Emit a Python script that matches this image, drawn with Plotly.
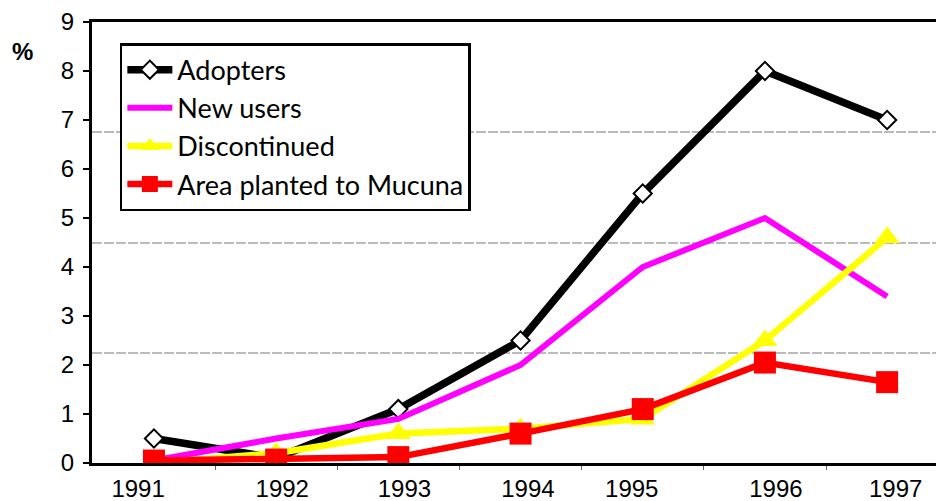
import plotly.graph_objects as go

years = ["1991", "1992", "1993", "1994", "1995", "1996", "1997"]
adopters = [0.5, 0.1, 1.1, 2.5, 5.5, 8.0, 7.0]
new_users = [0.05, 0.5, 0.9, 2.0, 4.0, 5.0, 3.4]
discontinued = [0.0, 0.2, 0.6, 0.7, 0.9, 2.5, 4.6]
area_mucuna = [0.05, 0.07, 0.12, 0.6, 1.1, 2.05, 1.65]

xi = list(range(len(years)))
label_pos = [-0.13, 1.05, 2.05, 3.06, 3.91, 5.09, 6.07]
grid_vals = [2.25, 4.5, 6.75]

fig = go.Figure()
fig.add_trace(go.Scatter(x=xi, y=adopters, name="Adopters", mode="lines+markers",
                         line=dict(color="black", width=7.5),
                         marker=dict(symbol="diamond", size=14, color="white",
                                     line=dict(color="black", width=2))))
fig.add_trace(go.Scatter(x=xi, y=new_users, name="New users", mode="lines",
                         line=dict(color="#ff00ff", width=6)))
fig.add_trace(go.Scatter(x=xi, y=discontinued, name="Discontinued", mode="lines+markers",
                         line=dict(color="#ffff00", width=6.5),
                         marker=dict(symbol="triangle-up", size=22, color="#ffff00")))
fig.add_trace(go.Scatter(x=xi, y=area_mucuna, name="Area planted to Mucuna", mode="lines+markers",
                         line=dict(color="#ff0000", width=6.5),
                         marker=dict(symbol="square", size=22, color="#ff0000")))

fig.update_layout(
    width=936, height=501,
    margin=dict(l=92, r=0, t=22, b=38, autoexpand=False),
    paper_bgcolor="white", plot_bgcolor="white",
    showlegend=True,
    legend=dict(x=0.033, y=0.952, xanchor="left", yanchor="top",
                bordercolor="black", borderwidth=2.5, bgcolor="white",
                font=dict(family="Lato", size=27, color="black"),
                itemwidth=45, tracegroupgap=0),
    font=dict(family="Liberation Sans, Arial", size=24, color="black"),
    annotations=[dict(text="<b>%</b>", x=(22 - 92) / 844, y=(463 - 52) / 441,
                      xref="paper", yref="paper", xanchor="center", yanchor="middle",
                      showarrow=False, font=dict(size=24))],
)

fig.update_xaxes(range=[-0.507, 6.40], tickmode="array", tickvals=label_pos, ticktext=years,
                 ticks="", showgrid=False, zeroline=False, automargin=False,
                 showline=True, linecolor="black", linewidth=3, mirror=True,
                 ticklabelstandoff=2,
                 minor=dict(tickmode="array", tickvals=[i + 0.5 for i in xi[:-1]],
                            ticks="outside", ticklen=4, tickwidth=1, tickcolor="#666",
                            showgrid=False))
fig.update_yaxes(range=[0, 9], tickmode="array", tickvals=list(range(10)),
                 ticks="outside", ticklen=6, tickwidth=1.5, tickcolor="black",
                 showgrid=False, zeroline=False, automargin=False,
                 showline=True, linecolor="black", linewidth=3,
                 ticklabelstandoff=4,
                 minor=dict(tickmode="array", tickvals=grid_vals, ticks="",
                            showgrid=True, gridcolor="#bbbbbb", gridwidth=2,
                            griddash="10px,2px"))

fig.write_html("out.html", config={"displayModeBar": False},
               post_script="document.body.style.margin='0px';")
